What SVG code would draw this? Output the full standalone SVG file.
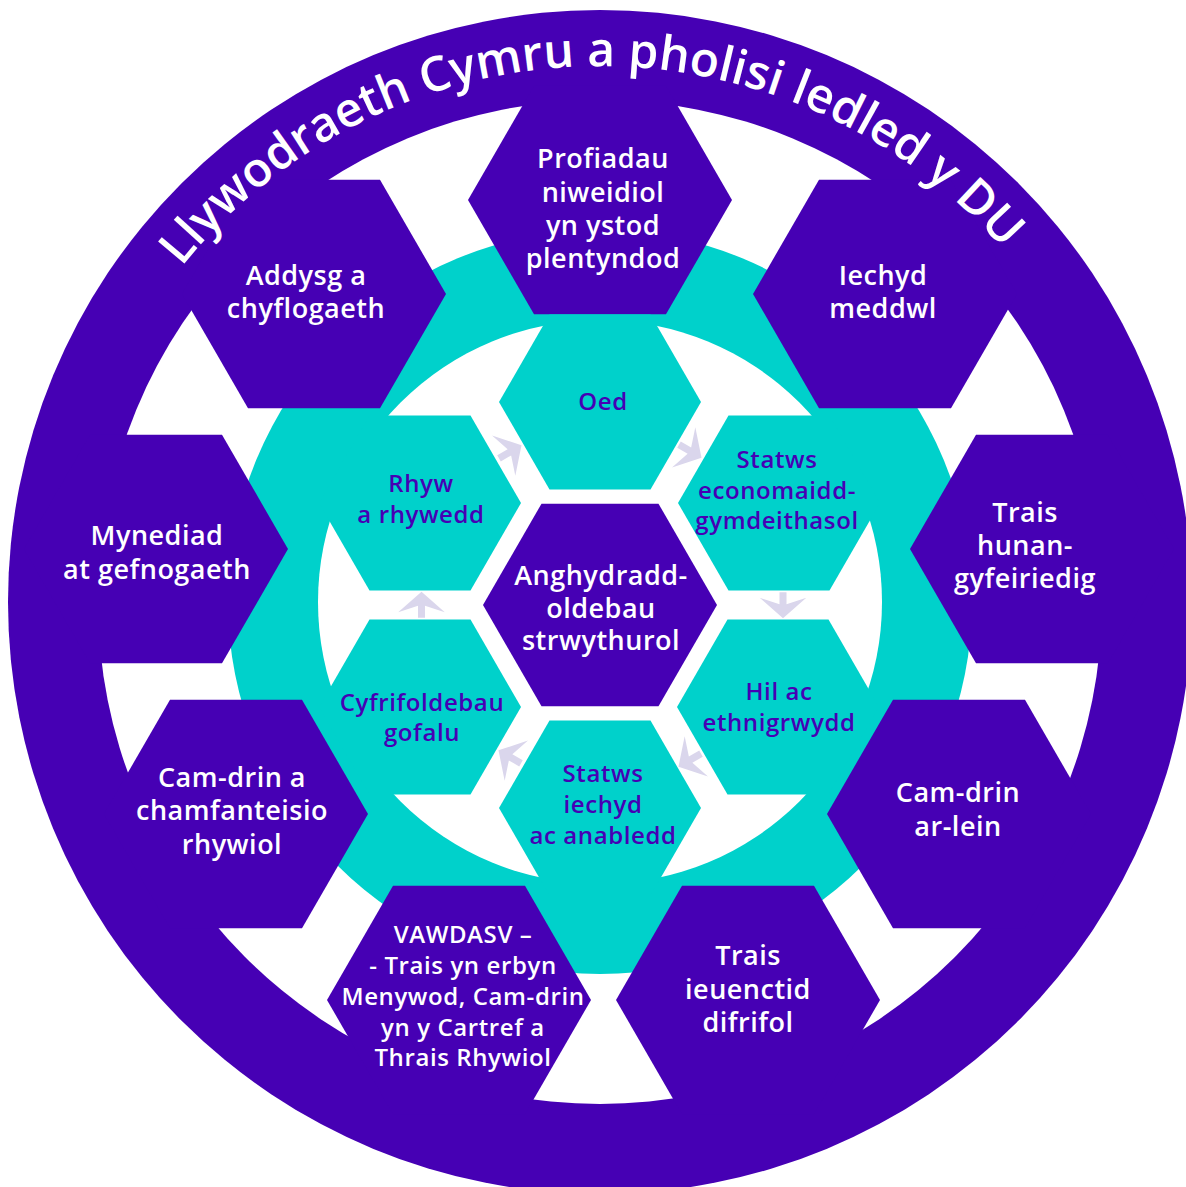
<svg xmlns="http://www.w3.org/2000/svg" xmlns:xlink="http://www.w3.org/1999/xlink" width="1186" height="1187" viewBox="0 0 1186 1187">
<style>
.purple{fill:#4600b4}
.teal{fill:#00d1cb}
.white{fill:#ffffff}
.arrow{fill:#dad6ec}
text{font-family:"Open Sans","Liberation Sans",sans-serif;font-weight:600;text-anchor:middle}
.lw{fill:#ffffff;font-size:27px;letter-spacing:0.5px}
.lv{fill:#ffffff;font-size:24px;letter-spacing:0.6px}
.lp{fill:#4600b4;font-size:24px;letter-spacing:0.6px}
.title{fill:#ffffff;font-size:48px;text-anchor:middle}
</style>
<defs>
<path id="arc" d="M 64,602 A 536,536 0 0 1 1136,602"/>
<path id="arr" d="M0,-13.3 L23.3,7.3 L3.5,0.7 L3.5,12.7 L-3.5,12.7 L-3.5,0.7 L-23.3,7.3 Z"/>
</defs>
<g id="background">
<circle class="purple" cx="600" cy="602" r="592"/>
<circle class="white" cx="600" cy="602" r="502"/>
<circle class="teal" cx="600" cy="602" r="372"/>
<circle class="white" cx="600" cy="602" r="282"/>
</g>
<g id="n-profiadau">
<polygon class="purple" points="468,200 534,85.7 666,85.7 732,200 666,314.3 534,314.3"/>
<text class="lw"><tspan x="603" y="168">Profiadau</tspan><tspan x="603" y="202">niweidiol</tspan><tspan x="603" y="235">yn ystod</tspan><tspan x="603" y="268">plentyndod</tspan></text>
</g>
<g id="n-addysg">
<polygon class="purple" points="182,294 248,179.7 380,179.7 446,294 380,408.3 248,408.3"/>
<text class="lw"><tspan x="306" y="285">Addysg a</tspan><tspan x="306" y="318">chyflogaeth</tspan></text>
</g>
<g id="n-iechyd-meddwl">
<polygon class="purple" points="753,294 819,179.7 951,179.7 1017,294 951,408.3 819,408.3"/>
<text class="lw"><tspan x="883" y="285">Iechyd</tspan><tspan x="883" y="318">meddwl</tspan></text>
</g>
<g id="n-mynediad">
<polygon class="purple" points="24,549 90,434.7 222,434.7 288,549 222,663.3 90,663.3"/>
<text class="lw"><tspan x="157" y="545">Mynediad</tspan><tspan x="157" y="579">at gefnogaeth</tspan></text>
</g>
<g id="n-trais-hunan">
<polygon class="purple" points="910,549 976,434.7 1108,434.7 1174,549 1108,663.3 976,663.3"/>
<text class="lw"><tspan x="1025" y="522">Trais</tspan><tspan x="1025" y="555">hunan-</tspan><tspan x="1025" y="588">gyfeiriedig</tspan></text>
</g>
<g id="n-cam-drin-a">
<polygon class="purple" points="104,814 170,699.7 302,699.7 368,814 302,928.3 170,928.3"/>
<text class="lw"><tspan x="232" y="787">Cam-drin a</tspan><tspan x="232" y="820">chamfanteisio</tspan><tspan x="232" y="854">rhywiol</tspan></text>
</g>
<g id="n-cam-drin-ar-lein">
<polygon class="purple" points="827,814 893,699.7 1025,699.7 1091,814 1025,928.3 893,928.3"/>
<text class="lw"><tspan x="958" y="802">Cam-drin</tspan><tspan x="958" y="836">ar-lein</tspan></text>
</g>
<g id="n-vawdasv">
<polygon class="purple" points="327,1000 393,885.7 525,885.7 591,1000 525,1114.3 393,1114.3"/>
<text class="lv"><tspan x="463" y="943">VAWDASV –</tspan><tspan x="463" y="974">- Trais yn erbyn</tspan><tspan x="463" y="1005">Menywod, Cam-drin</tspan><tspan x="463" y="1036">yn y Cartref  a</tspan><tspan x="463" y="1066">Thrais Rhywiol</tspan></text>
</g>
<g id="n-trais-ieuenctid">
<polygon class="purple" points="616,1000 682,885.7 814,885.7 880,1000 814,1114.3 682,1114.3"/>
<text class="lw"><tspan x="748" y="965">Trais</tspan><tspan x="748" y="999">ieuenctid</tspan><tspan x="748" y="1032">difrifol</tspan></text>
</g>
<g id="n-oed">
<polygon class="teal" points="499,402 549.5,314.5 650.5,314.5 701,402 650.5,489.5 549.5,489.5"/>
<text class="lp"><tspan x="603" y="410">Oed</tspan></text>
</g>
<g id="n-rhyw">
<polygon class="teal" points="319,503 369.5,415.5 470.5,415.5 521,503 470.5,590.5 369.5,590.5"/>
<text class="lp"><tspan x="421" y="492">Rhyw</tspan><tspan x="421" y="523">a rhywedd</tspan></text>
</g>
<g id="n-statws-econ">
<polygon class="teal" points="678,503 728.5,415.5 829.5,415.5 880,503 829.5,590.5 728.5,590.5"/>
<text class="lp"><tspan x="777" y="468">Statws</tspan><tspan x="777" y="499">economaidd-</tspan><tspan x="777" y="529">gymdeithasol</tspan></text>
</g>
<g id="n-hil">
<polygon class="teal" points="677,707 727.5,619.5 828.5,619.5 879,707 828.5,794.5 727.5,794.5"/>
<text class="lp"><tspan x="779" y="700">Hil ac</tspan><tspan x="779" y="731">ethnigrwydd</tspan></text>
</g>
<g id="n-statws-iechyd">
<polygon class="teal" points="499,808 549.5,720.5 650.5,720.5 701,808 650.5,895.5 549.5,895.5"/>
<text class="lp"><tspan x="603" y="782">Statws</tspan><tspan x="603" y="813">iechyd</tspan><tspan x="603" y="844">ac anabledd</tspan></text>
</g>
<g id="n-cyfrifoldebau">
<polygon class="teal" points="319,707 369.5,619.5 470.5,619.5 521,707 470.5,794.5 369.5,794.5"/>
<text class="lp"><tspan x="422" y="711">Cyfrifoldebau</tspan><tspan x="422" y="741">gofalu</tspan></text>
</g>
<g id="n-central">
<polygon class="purple" points="483,605 541.5,503.7 658.5,503.7 717,605 658.5,706.3 541.5,706.3"/>
<text class="lw"><tspan x="601" y="585">Anghydradd-</tspan><tspan x="601" y="618">oldebau</tspan><tspan x="601" y="650">strwythurol</tspan></text>
</g>
<g id="connectors">
<use href="#arr" xlink:href="#arr" class="arrow" transform="translate(510,452) rotate(60)"/>
<use href="#arr" xlink:href="#arr" class="arrow" transform="translate(690,451) rotate(120)"/>
<use href="#arr" xlink:href="#arr" class="arrow" transform="translate(783,605) rotate(180)"/>
<use href="#arr" xlink:href="#arr" class="arrow" transform="translate(690,760) rotate(240)"/>
<use href="#arr" xlink:href="#arr" class="arrow" transform="translate(510,757) rotate(300)"/>
<use href="#arr" xlink:href="#arr" class="arrow" transform="translate(421.5,605) rotate(0)"/>
</g>
<g id="title">
<text class="title"><textPath xlink:href="#arc" href="#arc" startOffset="830">Llywodraeth Cymru a pholisi ledled y DU</textPath></text>
</g>
</svg>
